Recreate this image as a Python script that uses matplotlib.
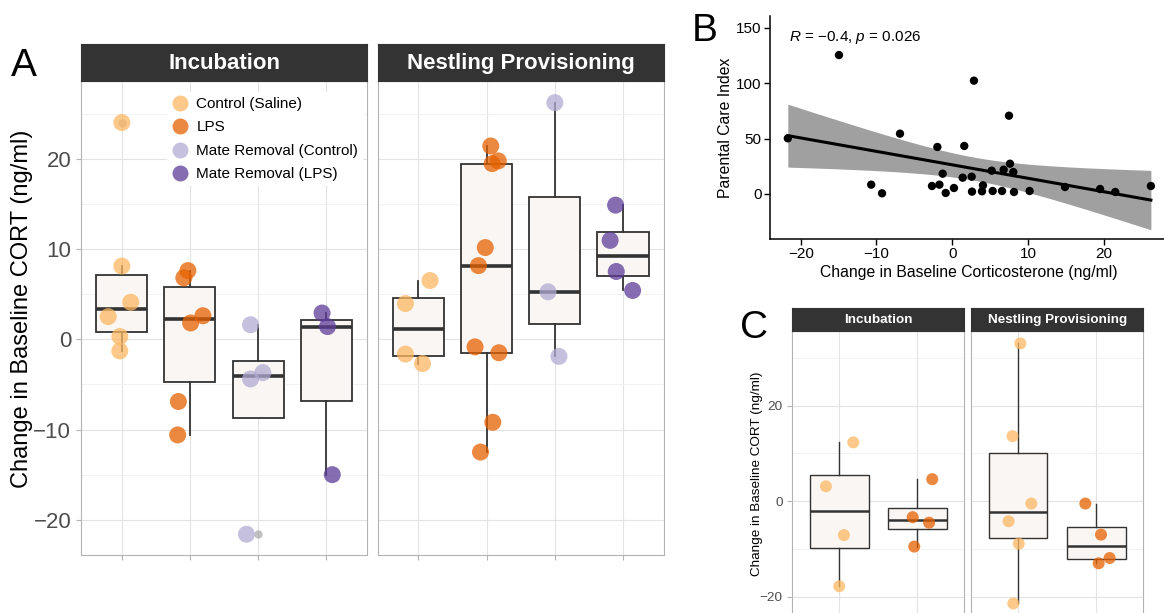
import numpy as np
import matplotlib
matplotlib.use('Agg')
import matplotlib.pyplot as plt
from matplotlib.lines import Line2D

plt.rcParams['font.family'] = ['Liberation Sans', 'DejaVu Sans']
plt.rcParams['mathtext.fontset'] = 'custom'
plt.rcParams['mathtext.rm'] = 'Liberation Sans'
plt.rcParams['mathtext.it'] = 'Liberation Sans:italic'

groups = ['Control (Saline)', 'LPS', 'Mate Removal (Control)', 'Mate Removal (LPS)']
group_colors = ['#fdb863', '#e66101', '#b2abd2', '#5e3c99']

# Panel A - change in baseline CORT (ng/ml) per treatment group
inc_control = [24.0, 8.1, 4.1, 2.5, 0.3, -1.3]
inc_lps = [7.6, 6.8, 2.6, 1.8, -6.9, -10.6]
inc_mate_control = [1.6, -3.7, -4.4, -21.6]
inc_mate_lps = [2.9, 1.4, -15.0]
nest_control = [6.5, 3.95, -1.65, -2.7]
nest_lps = [21.4, 19.75, 19.45, 10.15, 8.15, -0.85, -1.5, -9.2, -12.5]
nest_mate_control = [26.2, 5.25, -1.9]
nest_mate_lps = [14.85, 10.95, 7.5, 5.4]

# horizontal jitter of the points, in category units
inc_jitter = [[0.0, 0.0, 0.13, -0.2, -0.03, -0.03],
              [-0.03, -0.09, 0.19, 0.01, -0.17, -0.18],
              [-0.11, 0.07, -0.11, -0.17],
              [-0.06, 0.02, 0.09]]
nest_jitter = [[0.17, -0.19, -0.19, 0.06],
               [0.06, 0.17, 0.08, -0.02, -0.12, -0.17, 0.18, 0.09, -0.09],
               [0.0, -0.1, 0.06],
               [-0.11, -0.19, -0.1, 0.14]]

# Panel B - parental care vs change in baseline corticosterone
cort_change = [-21.7, -14.95, -10.7, -9.27, -6.9, -2.68, -1.97, -1.7, -1.27, -0.87,
               0.22, 1.37, 1.58, 2.56, 2.6, 2.86, 3.92, 4.05, 5.2, 5.33,
               6.56, 6.78, 7.48, 7.61, 8.05, 8.14, 10.2, 14.87, 19.5, 21.5, 26.2]
care_index = [50.2, 125.3, 8.4, 0.6, 54.4, 7.2, 42.4, 8.4, 18.3, 0.9,
              5.4, 14.7, 43.3, 15.6, 2.1, 102.2, 2.4, 7.8, 21.0, 2.7,
              2.7, 21.9, 70.6, 27.3, 19.8, 1.8, 2.7, 6.3, 4.5, 1.8, 7.2]
cor_label = r'$R$ = $-$0.4, $p$ = 0.026'

# Panel C - change in baseline CORT, control vs LPS
c_inc_control = [12.3, 3.1, -7.1, -17.8]
c_inc_lps = [4.6, -3.35, -4.5, -9.5]
c_nest_control = [33.0, 13.6, -0.5, -4.2, -8.9, -21.4]
c_nest_lps = [-0.5, -7.0, -11.9, -13.0]
c_inc_jitter = [[0.18, -0.17, 0.06, 0.0], [0.19, -0.06, 0.15, -0.04]]
c_nest_jitter = [[0.03, -0.07, 0.17, -0.12, 0.01, -0.06], [-0.14, 0.06, 0.17, 0.03]]

W, H = 1164, 613
fig = plt.figure(figsize=(W / 100, H / 100), dpi=100)


def add_box(l, t, r, b):
    return fig.add_axes([l / W, 1 - b / H, (r - l) / W, (b - t) / H])


def strip(l, r, t, b, label, fs):
    sax = add_box(l, t, r, b)
    sax.set_facecolor('#333333')
    sax.set_xticks([])
    sax.set_yticks([])
    for s in sax.spines.values():
        s.set_color('#333333')
    sax.text(0.5, 0.47, label, color='white', fontsize=fs, fontweight='bold',
             ha='center', va='center', transform=sax.transAxes)


def facet(ax, values, jitter, colors, ylim, major, minor, box_lw, med_lw,
          point_size, tick_fs, show_y):
    pos = np.arange(1, len(values) + 1)
    ax.set_xlim(0.4, len(values) + 0.6)
    ax.set_ylim(*ylim)
    ax.boxplot(values, positions=pos, widths=0.75, patch_artist=True,
               showcaps=False, manage_ticks=False, zorder=2,
               boxprops=dict(facecolor='#F9F6F3', edgecolor='#333333', linewidth=box_lw),
               whiskerprops=dict(color='#333333', linewidth=box_lw),
               medianprops=dict(color='#333333', linewidth=med_lw),
               flierprops=dict(marker='o', markersize=6, markerfacecolor='#999999',
                               markeredgecolor='none', alpha=0.6))
    for i, (vals, jit) in enumerate(zip(values, jitter)):
        ax.scatter(pos[i] + np.array(jit), vals, s=point_size, color=colors[i],
                   alpha=0.75, edgecolors='none', zorder=3)
    ax.set_xticks(pos)
    ax.set_xticklabels([])
    ax.set_yticks(major)
    ax.set_yticks(minor, minor=True)
    ax.grid(which='major', color='#E3E3E3', lw=0.8)
    ax.grid(which='minor', axis='y', color='#F0F0F0', lw=0.6)
    ax.set_axisbelow(True)
    for s in ax.spines.values():
        s.set_color('#B3B3B3')
        s.set_linewidth(0.8)
    ax.tick_params(which='both', color='#B3B3B3', labelcolor='#4D4D4D',
                   labelsize=tick_fs, length=3.5)
    ax.tick_params(which='minor', length=0)
    if not show_y:
        ax.tick_params(axis='y', which='both', left=False, labelleft=False)


# ---- Panel A ----
a_ylim = (-23.9, 28.6)
a_major = [-20, -10, 0, 10, 20]
a_minor = [-15, -5, 5, 15, 25]
ax_inc = add_box(81, 81, 367, 555)
facet(ax_inc, [inc_control, inc_lps, inc_mate_control, inc_mate_lps], inc_jitter,
      group_colors, a_ylim, a_major, a_minor, 1.3, 2.6, 150, 16, True)
ax_nest = add_box(377.5, 81, 664, 555)
facet(ax_nest, [nest_control, nest_lps, nest_mate_control, nest_mate_lps], nest_jitter,
      group_colors, a_ylim, a_major, a_minor, 1.3, 2.6, 150, 16, False)
ax_nest.tick_params(axis='x', length=3.5)
strip(81, 367, 43.5, 81, 'Incubation', 16)
strip(377.5, 664, 43.5, 81, 'Nestling Provisioning', 16)

handles = [Line2D([], [], marker='o', ls='none', markersize=11.5, markerfacecolor=c,
                  markeredgecolor='none', alpha=0.75) for c in group_colors]
leg = ax_inc.legend(handles, groups, loc='upper left', bbox_to_anchor=(0.275, 0.992),
                    fontsize=11, frameon=True, framealpha=1, edgecolor='none',
                    handlelength=1.0, handletextpad=0.6, labelspacing=0.62,
                    borderpad=0.3, fancybox=False)
leg.set_zorder(5)

fig.text(22 / W, 1 - 309 / H, 'Change in Baseline CORT (ng/ml)', rotation=90,
         fontsize=17, ha='center', va='center')
fig.text(11 / W, 1 - 76 / H, 'A', fontsize=28, va='baseline')

# ---- Panel B ----
axb = add_box(770, 16, 1164, 239)
x = np.array(cort_change)
y = np.array(care_index)
slope, intercept = np.polyfit(x, y, 1)
n = len(x)
resid = y - (slope * x + intercept)
s_err = np.sqrt(np.sum(resid ** 2) / (n - 2))
xs = np.linspace(x.min(), x.max(), 100)
fit = slope * xs + intercept
se = s_err * np.sqrt(1 / n + (xs - x.mean()) ** 2 / np.sum((x - x.mean()) ** 2))
t_crit = 2.045
axb.fill_between(xs, fit - t_crit * se, fit + t_crit * se, color='#A0A0A0', lw=0, zorder=1)
axb.plot(xs, fit, color='black', lw=2.2, zorder=2)
axb.scatter(x, y, s=36, color='black', edgecolors='none', zorder=3)
axb.set_xlim(-24.05, 27.93)
axb.set_ylim(-40.6, 160.5)
axb.set_xticks([-20, -10, 0, 10, 20])
axb.set_yticks([0, 50, 100, 150])
axb.spines['top'].set_visible(False)
axb.spines['right'].set_visible(False)
for s in ['left', 'bottom']:
    axb.spines[s].set_linewidth(1.1)
axb.tick_params(labelsize=11, length=4, width=1.0, pad=2)
fig.text(789 / W, 1 - 37 / H, cor_label, fontsize=11, ha='left', va='center')
fig.text(725 / W, 1 - 128 / H, 'Parental Care Index', rotation=90, fontsize=11.3,
         ha='center', va='center')
fig.text(969 / W, 1 - 272 / H, 'Change in Baseline Corticosterone (ng/ml)',
         fontsize=11.3, ha='center', va='center')
fig.text(692 / W, 1 - 40.7 / H, 'B', fontsize=28, va='baseline')

# ---- Panel C ----
c_colors = group_colors[:2]
c_ylim = (-23.4, 35.6)
c_major = [-20, 0, 20]
c_minor = [-10, 10, 30]
axc1 = add_box(792.3, 331, 964.3, 613)
facet(axc1, [c_inc_control, c_inc_lps], c_inc_jitter, c_colors, c_ylim, c_major,
      c_minor, 1.0, 1.8, 75, 9.7, True)
axc2 = add_box(971, 331, 1143.3, 613)
facet(axc2, [c_nest_control, c_nest_lps], c_nest_jitter, c_colors, c_ylim, c_major,
      c_minor, 1.0, 1.8, 75, 9.7, False)
for a in (axc1, axc2):
    a.spines['bottom'].set_visible(False)
    a.tick_params(axis='x', length=0)
strip(792.3, 964.3, 308.3, 331, 'Incubation', 9.7)
strip(971, 1143.3, 308.3, 331, 'Nestling Provisioning', 9.7)
fig.text(756.7 / W, 1 - 473.4 / H, 'Change in Baseline CORT (ng/ml)', rotation=90,
         fontsize=9.7, ha='center', va='center')
fig.text(740 / W, 1 - 338 / H, 'C', fontsize=28, va='baseline')

fig.savefig('out.png', dpi=100, facecolor='white')
